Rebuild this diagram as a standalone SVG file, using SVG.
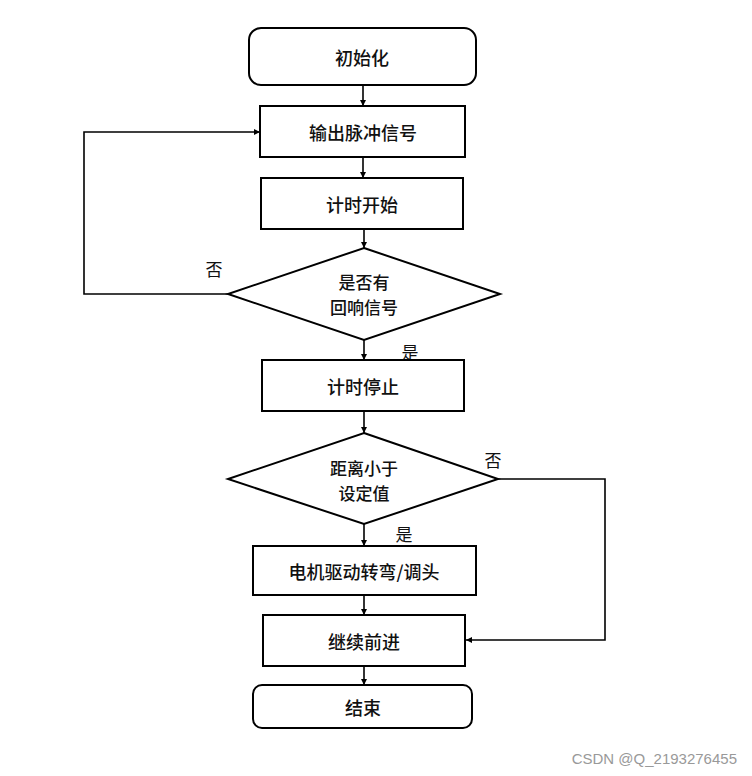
<svg xmlns="http://www.w3.org/2000/svg" width="752" height="776" viewBox="0 0 752 776">
<defs>
<style>
.n{fill:#fff;stroke:#000;stroke-width:2}
.t{font-family:"Noto Sans CJK SC","Liberation Serif",serif;font-size:18px;font-weight:500;text-anchor:middle;dominant-baseline:central;fill:#111}
.d{font-family:"Noto Sans CJK SC","Liberation Serif",serif;font-size:17px;font-weight:500;text-anchor:middle;dominant-baseline:central;fill:#111}
.l{font-family:"Noto Sans CJK SC","Liberation Serif",serif;font-size:17px;text-anchor:middle;dominant-baseline:central;fill:#111}
.c{fill:none;stroke:#000;stroke-width:1.6}
</style>
<marker id="a" viewBox="0 0 8 8" refX="8" refY="4" markerWidth="6" markerHeight="6" orient="auto" markerUnits="userSpaceOnUse">
<path d="M0,0 L8,4 L0,8 z" fill="#000"/>
</marker>
</defs>
<rect width="752" height="776" fill="#fff"/>
<g id="connectors">
<path class="c" d="M363,85 V106" marker-end="url(#a)"/>
<path class="c" d="M363,157 V178" marker-end="url(#a)"/>
<path class="c" d="M364,229 V248" marker-end="url(#a)"/>
<path class="c" d="M228,294 H84 V132 H260" marker-end="url(#a)"/>
<path class="c" d="M364,340 V360" marker-end="url(#a)"/>
<path class="c" d="M364,411 V433" marker-end="url(#a)"/>
<path class="c" d="M498,479 H605 V640 H466" marker-end="url(#a)"/>
<path class="c" d="M364,524 V546" marker-end="url(#a)"/>
<path class="c" d="M364,595 V615" marker-end="url(#a)"/>
<path class="c" d="M364,666 V685" marker-end="url(#a)"/>
<text class="l" x="214" y="268">否</text>
<text class="l" x="410" y="351">是</text>
<text class="l" x="493" y="459">否</text>
<text class="l" x="404" y="533">是</text>
</g>
<g id="start">
<rect class="n" x="249" y="28" width="227" height="57" rx="12"/>
<text class="t" x="362" y="57">初始化</text>
</g>
<g id="pulse">
<rect class="n" x="260" y="106" width="205" height="51"/>
<text class="t" x="363" y="132">输出脉冲信号</text>
</g>
<g id="timer-start">
<rect class="n" x="261" y="178" width="202" height="51"/>
<text class="t" x="362" y="204">计时开始</text>
</g>
<g id="echo">
<polygon class="n" points="364,248 500,294 364,340 228,294"/>
<text class="d" x="364" y="281">是否有</text>
<text class="d" x="364" y="306">回响信号</text>
</g>
<g id="timer-stop">
<rect class="n" x="262" y="360" width="202" height="51"/>
<text class="t" x="363" y="386">计时停止</text>
</g>
<g id="distance">
<polygon class="n" points="364,433 498,479 364,524 228,479"/>
<text class="d" x="364" y="467">距离小于</text>
<text class="d" x="364" y="492">设定值</text>
</g>
<g id="turn">
<rect class="n" x="253" y="546" width="223" height="49"/>
<text class="t" x="364" y="571">电机驱动转弯/调头</text>
</g>
<g id="forward">
<rect class="n" x="263" y="615" width="202" height="51"/>
<text class="t" x="364" y="641">继续前进</text>
</g>
<g id="end">
<rect class="n" x="253" y="685" width="219" height="43" rx="9"/>
<text class="t" x="363" y="707">结束</text>
</g>
<text x="737" y="758" font-family="'Liberation Sans',sans-serif" font-size="15" fill="#999" text-anchor="end" dominant-baseline="central">CSDN @Q_2193276455</text>
</svg>
